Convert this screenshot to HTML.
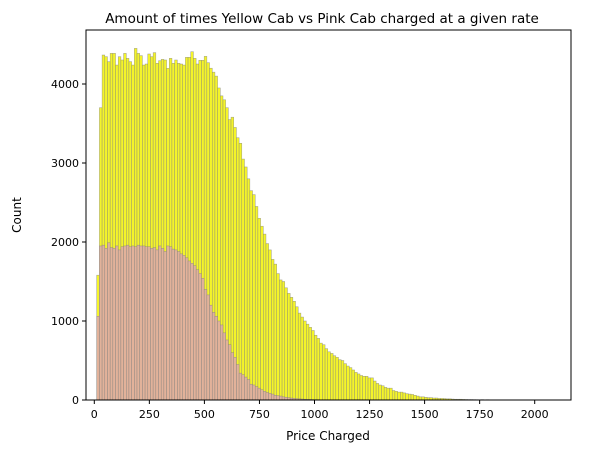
<!DOCTYPE html>
<html><head><meta charset="utf-8"><style>
html,body{margin:0;padding:0;background:#fff;}
svg text{font-family:"DejaVu Sans","Liberation Sans",sans-serif;fill:#000;}
</style></head><body>
<svg id="chart" width="600" height="453" viewBox="0 0 600 453">
<text x="322" y="23" font-size="13.5" text-anchor="middle">Amount of times Yellow Cab vs Pink Cab charged at a given rate</text>
<g id="bars"></g>
<g id="axes"></g>
<text x="328" y="440" font-size="12" text-anchor="middle">Price Charged</text>
<text x="21" y="215" font-size="12" text-anchor="middle" transform="rotate(-90 21 215)">Count</text>
</svg>
<script>
const binStart = 11;
const binWidth = 12.2;
const yellowCounts = [1580,3700,
4367,4346,4283,4388,4388,4240,4346,4304,4388,4325,4283,4240,4451,4388,4359,4240,4253,4380,4346,4397,4262,4295,4312,4304,4198,4325,4262,4304,4262,4253,4240,4338,4338,4409,4325,4253,4300,
4300,4350,4270,4200,4150,4100,3950,3850,3800,3700,3550,3580,3450,3320,3250,3050,2950,2800,2650,2600,2450,2300,2200,2100,1980,1900,1780,1720,1600,1520,1500,1420,1350,1300,1250,1180,1100,1050,1000,960,920,880,820,780,720,700,650,610,590,560,540,510,500,460,430,410,380,350,330,310,300,300,280,280,240,210,190,180,160,150,150,120,110,100,100,90,80,75,70,60,50,40,40,35,30,30,25,25,20,20,18,15,15,12,10,10,10,8,7,6,6,5,4,3,5,3,4,2,3,2,3,2,2,1,2,1,1,2,1,1,1,2,1,1,1,1,1,1,1];
const pinkCounts = [1060,1950,
1960,1920,1990,1930,1920,1950,1900,1940,1950,1960,1940,1950,1940,1960,1950,1950,1940,1940,1920,1930,1900,1950,1920,1880,1950,1940,
1910,1900,1880,1850,1830,1800,1760,1730,1700,1650,1600,1540,1400,1330,1200,1110,1060,1000,950,850,760,700,600,540,450,340,320,290,260,200,190,170,150,130,110,95,85,75,60,55,50,40,35,30,25,20,18,15,12,10,8,8,6,5,4,3,3,2,2,1];
const xTicks = [0,250,500,750,1000,1250,1500,1750,2000];
const yTicks = [0,1000,2000,3000,4000];

const L=86,R=571,T=30,B=400;
function xs(v){return 94.3+v*0.2202;}
function ys(v){return B-v*0.0790;}
const NS='http://www.w3.org/2000/svg';
const bars=document.getElementById('bars');
function drawSeries(arr,fill,name){
  arr.forEach((c,i)=>{
    const x0=xs(binStart+i*binWidth), x1=xs(binStart+(i+1)*binWidth);
    const r=document.createElementNS(NS,'rect');
    r.setAttribute('x',x0);r.setAttribute('y',ys(c));
    r.setAttribute('width',x1-x0);r.setAttribute('height',B-ys(c));
    r.setAttribute('fill',fill);r.setAttribute('stroke','#7f7f7f');
    r.setAttribute('stroke-width','0.5');r.setAttribute('stroke-opacity','0.75');
    
    
    bars.appendChild(r);
  });
}
drawSeries(yellowCounts,'#f4f42a','yellow');
drawSeries(pinkCounts,'#e2b29a','pink');

const axes=document.getElementById('axes');
const frame=document.createElementNS(NS,'rect');
frame.setAttribute('x',L);frame.setAttribute('y',T);frame.setAttribute('width',R-L);frame.setAttribute('height',B-T);
frame.setAttribute('fill','none');frame.setAttribute('stroke','#000');frame.setAttribute('stroke-width','1');


axes.appendChild(frame);
xTicks.forEach(v=>{
  const l=document.createElementNS(NS,'line');
  l.setAttribute('x1',xs(v));l.setAttribute('x2',xs(v));l.setAttribute('y1',B);l.setAttribute('y2',B+4);
  l.setAttribute('stroke','#000');
  
  
  axes.appendChild(l);
  const t=document.createElementNS(NS,'text');
  t.setAttribute('x',xs(v));t.setAttribute('y',B+18);t.setAttribute('font-size','11');t.setAttribute('text-anchor','middle');
  t.textContent=v;
  
  
  axes.appendChild(t);
});
yTicks.forEach(v=>{
  const l=document.createElementNS(NS,'line');
  l.setAttribute('x1',L-4);l.setAttribute('x2',L);l.setAttribute('y1',ys(v));l.setAttribute('y2',ys(v));
  l.setAttribute('stroke','#000');
  
  
  axes.appendChild(l);
  const t=document.createElementNS(NS,'text');
  t.setAttribute('x',L-7);t.setAttribute('y',ys(v)+4);t.setAttribute('font-size','11');t.setAttribute('text-anchor','end');
  t.textContent=v;
  
  
  axes.appendChild(t);
});
</script>
</body></html>
